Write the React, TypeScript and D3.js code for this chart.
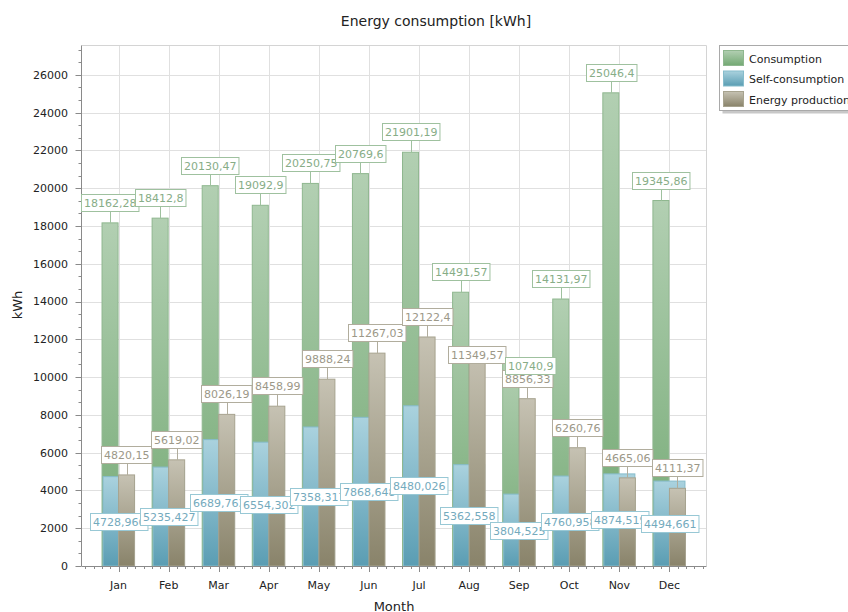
import React from 'react';
import * as d3 from 'd3';

// Monthly energy figures in kWh
const months = ['Jan', 'Feb', 'Mar', 'Apr', 'May', 'Jun', 'Jul', 'Aug', 'Sep', 'Oct', 'Nov', 'Dec'];
const consumption = [18162.28, 18412.8, 20130.47, 19092.9, 20250.75, 20769.6, 21901.19, 14491.57, 10740.9, 14131.97, 25046.4, 19345.86];
const selfConsumption = [4728.966, 5235.427, 6689.763, 6554.302, 7358.317, 7868.648, 8480.026, 5362.558, 3804.525, 4760.958, 4874.519, 4494.661];
const production = [4820.15, 5619.02, 8026.19, 8458.99, 9888.24, 11267.03, 12122.4, 11349.57, 8856.33, 6260.76, 4665.06, 4111.37];
const yTickValues = [0, 2000, 4000, 6000, 8000, 10000, 12000, 14000, 16000, 18000, 20000, 22000, 24000, 26000];
const seriesNames = ['Consumption', 'Self-consumption', 'Energy production'];

const W = 848;
const H = 612;
const M = { left: 81.5, right: 706.5, top: 45.5, bottom: 566 };
const FONT = '"DejaVu Sans", Verdana, sans-serif';
const LABEL_FS = 11;
const LABEL_H = 17;
const LEADER = 12;

const palette = [
  { id: 'gCons', top: '#b2cfb2', bottom: '#73a973', stroke: '#8fb78f', text: '#87ad87', border: '#9fc19f' },
  { id: 'gSelf', top: '#aad2de', bottom: '#5a9db3', stroke: '#86bccb', text: '#74aabd', border: '#98c8d5' },
  { id: 'gProd', top: '#c6c2b3', bottom: '#89836a', stroke: '#a7a38f', text: '#9c9888', border: '#b1ad9d' },
];

// DejaVu Sans advance widths (em) for the characters used in value labels
const charEm = (ch: string) => (ch === ',' || ch === '.' ? 0.318 : 0.636);
const textWidth = (s: string, fs: number) => s.split('').reduce((a, ch) => a + charEm(ch) * fs, 0);
const fmt = (v: number) => String(v).replace('.', ',');

type Label = {
  s: number;
  i: number;
  text: string;
  w: number;
  ax: number;
  ay: number;
  x0: number;
  y0: number;
  leader: boolean;
  moved: boolean;
};

const overlap = (a: Label, b: Label) => {
  const ox = Math.min(a.x0 + a.w, b.x0 + b.w) - Math.max(a.x0, b.x0);
  const oy = Math.min(a.y0 + LABEL_H, b.y0 + LABEL_H) - Math.max(a.y0, b.y0);
  return ox > 10 && oy > 2;
};

export default function App() {
  const yMax = d3.max(consumption)! * 1.1;
  const y = d3.scaleLinear().domain([0, yMax]).range([M.bottom, M.top]);
  const x = d3.scalePoint<string>().domain(months).range([M.left, M.right]).padding(0.74);
  const step = x.step();
  const bw = step * 0.32;

  const cx = (m: string) => x(m)!;

  // bar geometry per series
  const bars = [
    months.map((m, i) => ({ x: cx(m) - bw - 0.5, w: bw, v: consumption[i] })),
    months.map((m, i) => ({ x: cx(m) - bw + 0.5, w: bw * 2 - 1, v: selfConsumption[i] })),
    months.map((m, i) => ({ x: cx(m), w: bw, v: production[i] })),
  ];

  // value labels: above the bar top with a leader, or centred for self-consumption
  const labels: Label[] = [];
  [consumption, selfConsumption, production].forEach((vals, s) => {
    vals.forEach((v, i) => {
      const b = bars[s][i];
      const text = fmt(v);
      const w = textWidth(text, LABEL_FS) + 5;
      const ax = b.x + b.w / 2;
      const ay = y(v);
      const centred = s === 1;
      labels.push({
        s,
        i,
        text,
        w,
        ax,
        ay,
        x0: ax - w / 2,
        y0: centred ? (ay + M.bottom) / 2 - LABEL_H / 2 : ay - LEADER - LABEL_H,
        leader: !centred,
        moved: false,
      });
    });
  });

  // overlapping pairs drop down onto their bar tops
  const moved = new Set<Label>();
  for (let a = 0; a < labels.length; a++) {
    for (let b = a + 1; b < labels.length; b++) {
      if (labels[a].leader && labels[b].leader && overlap(labels[a], labels[b])) {
        moved.add(labels[a]);
        moved.add(labels[b]);
      }
    }
  }
  moved.forEach((l) => {
    l.y0 = l.ay - 6;
    l.leader = false;
    l.moved = true;
  });
  // then slide them sideways so they do not cover each other
  const movedSorted = Array.from(moved).sort((a, b) => a.x0 - b.x0);
  movedSorted.forEach((l, k) => {
    for (let j = 0; j < k; j++) {
      const o = movedSorted[j];
      if (overlap(l, o)) l.x0 = o.x0 + o.w - 1;
    }
  });
  // moved labels are painted last so they stay readable
  const drawOrder = [...labels.filter((l) => !l.moved), ...movedSorted];

  const minorY = d3.range(0, yMax, 2000 / 3).filter((_, k) => k % 3 !== 0);
  const firstX = cx(months[0]);
  const minorX: number[] = [];
  for (let k = -10; k < months.length * 6 + 10; k++) {
    const px = firstX + (k * step) / 6;
    if (k % 6 !== 0 && px >= M.left && px <= M.right) minorX.push(px);
  }

  const axisColor = '#8a8a8a';
  const gridColor = '#e0e0e0';

  return (
    <svg width={W} height={H} style={{ position: 'absolute', left: 0, top: 0, fontFamily: FONT }}>
      <defs>
        {palette.map((p) => (
          <linearGradient key={p.id} id={p.id} x1="0" y1="0" x2="0" y2="1">
            <stop offset="0" stopColor={p.top} />
            <stop offset="1" stopColor={p.bottom} />
          </linearGradient>
        ))}
      </defs>
      <rect width={W} height={H} fill="#fff" />

      <text x={436} y={26} textAnchor="middle" fontSize={14} fill="#222">
        Energy consumption [kWh]
      </text>

      {/* grid */}
      {yTickValues.filter((t) => t > 0).map((t) => (
        <line key={'gy' + t} x1={M.left} x2={M.right} y1={Math.round(y(t)) + 0.5} y2={Math.round(y(t)) + 0.5} stroke={gridColor} />
      ))}
      {months.map((m) => (
        <line key={'gx' + m} x1={Math.round(cx(m)) + 0.5} x2={Math.round(cx(m)) + 0.5} y1={M.top} y2={M.bottom} stroke={gridColor} />
      ))}
      <line x1={M.left} x2={M.right} y1={M.top} y2={M.top} stroke="#d4d4d4" />
      <line x1={M.right} x2={M.right} y1={M.top} y2={M.bottom} stroke="#d4d4d4" />

      {/* bars */}
      {bars.map((series, s) =>
        series.map((b, i) => (
          <rect
            key={`b${s}-${i}`}
            x={b.x}
            y={y(b.v)}
            width={b.w}
            height={M.bottom - y(b.v)}
            fill={`url(#${palette[s].id})`}
            stroke={palette[s].stroke}
            strokeWidth={1}
          />
        ))
      )}

      {/* axes */}
      <line x1={M.left} x2={M.left} y1={M.top} y2={M.bottom} stroke={axisColor} />
      <line x1={M.left} x2={M.right} y1={M.bottom + 0.5} y2={M.bottom + 0.5} stroke={axisColor} />
      {yTickValues.map((t) => (
        <g key={'ty' + t}>
          <line x1={M.left - 6} x2={M.left} y1={Math.round(y(t)) + 0.5} y2={Math.round(y(t)) + 0.5} stroke={axisColor} />
          <text x={68} y={y(t)} dy="0.36em" textAnchor="end" fontSize={11} fill="#222">
            {t}
          </text>
        </g>
      ))}
      {minorY.map((t) => (
        <line key={'my' + t} x1={M.left - 3} x2={M.left} y1={Math.round(y(t)) + 0.5} y2={Math.round(y(t)) + 0.5} stroke={axisColor} />
      ))}
      {months.map((m) => (
        <g key={'tx' + m}>
          <line x1={Math.round(cx(m)) + 0.5} x2={Math.round(cx(m)) + 0.5} y1={M.bottom} y2={M.bottom + 6} stroke={axisColor} />
          <text x={cx(m)} y={589} textAnchor="middle" fontSize={11} fill="#222">
            {m}
          </text>
        </g>
      ))}
      {minorX.map((px, k) => (
        <line key={'mx' + k} x1={Math.round(px) + 0.5} x2={Math.round(px) + 0.5} y1={M.bottom} y2={M.bottom + 3} stroke={axisColor} />
      ))}
      <text x={394} y={611} textAnchor="middle" fontSize={13} fill="#222">
        Month
      </text>
      <text transform="translate(22,305) rotate(-90)" textAnchor="middle" fontSize={13} fill="#222">
        kWh
      </text>

      {/* value labels */}
      {drawOrder.map((l, k) => {
        const p = palette[l.s];
        const bx = Math.round(l.x0) + 0.5;
        const by = Math.round(l.y0) + 0.5;
        return (
          <g key={'l' + k}>
            {l.leader && (
              <line x1={Math.round(l.ax) + 0.5} x2={Math.round(l.ax) + 0.5} y1={by + LABEL_H} y2={l.ay} stroke={p.border} />
            )}
            <rect x={bx} y={by} width={l.w} height={LABEL_H} fill="#fff" stroke={p.border} />
            <text x={bx + l.w / 2} y={by + 12.5} textAnchor="middle" fontSize={LABEL_FS} fill={p.text}>
              {l.text}
            </text>
          </g>
        );
      })}

      {/* legend */}
      <rect x={722.5} y={48.5} width={140} height={65} fill="#c8c8c8" />
      <rect x={719.5} y={45.5} width={140} height={65} fill="#fff" stroke="#a9a9a9" />
      {seriesNames.map((n, k) => (
        <g key={'lg' + n}>
          <rect x={723.5} y={50.5 + k * 20.5} width={20} height={15} fill={`url(#${palette[k].id})`} stroke={palette[k].stroke} />
          <text x={749} y={62.5 + k * 20.5} fontSize={11} fill="#222">
            {n}
          </text>
        </g>
      ))}
    </svg>
  );
}
